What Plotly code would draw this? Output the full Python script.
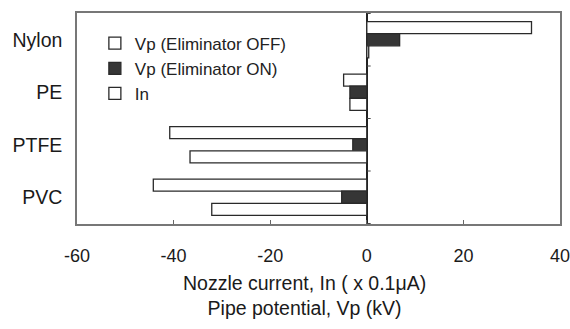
import plotly.graph_objects as go

categories = ["Nylon", "PE", "PTFE", "PVC"]
vp_off = [34.1, -4.8, -40.8, -44.2]
vp_on = [6.8, -3.5, -2.9, -5.2]
nozzle_in = [0.4, -3.5, -36.6, -32.1]
x_ticks = [-60, -40, -20, 0, 20, 40]
x_tick_text = ["-60", "-40", "-20", "0", "20", "40"]
x_title = "Nozzle current, In ( x 0.1μA)<br>Pipe potential, Vp (kV)"

FONT = "Liberation Sans, Arial, sans-serif"

fig = go.Figure()
series = [
    ("Vp (Eliminator OFF)", vp_off, "white"),
    ("Vp (Eliminator ON)", vp_on, "#363636"),
    ("In", nozzle_in, "white"),
]
for i, (name, vals, col) in enumerate(series):
    fig.add_trace(go.Bar(
        y=categories, x=vals, orientation="h", name=name,
        marker=dict(color=col, line=dict(color="#2a2a2a", width=1.3)),
        legendgroup=f"g{i}",
    ))

# small ticks on the zero line between categories
for k in range(len(categories) + 1):
    fig.add_shape(type="line", xref="x", yref="y",
                  x0=0, x1=0.8, y0=k - 0.5, y1=k - 0.5,
                  line=dict(color="#444", width=1))

fig.add_annotation(text=x_title, xref="paper", yref="paper",
                   x=0.47, y=-0.217, xanchor="center", yanchor="top",
                   showarrow=False, font=dict(size=19.5, color="#1a1a1a"))

fig.update_layout(
    width=570, height=329,
    margin=dict(l=77, r=10, t=13, b=105),
    plot_bgcolor="white", paper_bgcolor="white",
    barmode="group", bargap=0.31, bargroupgap=0,
    font=dict(family=FONT, color="#1a1a1a"),
    showlegend=True,
    legend=dict(x=0.037, y=0.94, xanchor="left", yanchor="top",
                bgcolor="rgba(0,0,0,0)", font=dict(size=17, color="#222"),
                tracegroupgap=0, itemwidth=30, traceorder="grouped"),
    xaxis=dict(range=[-60, 40], tickvals=x_ticks, ticktext=x_tick_text,
               ticks="inside", ticklen=4, automargin=False,
               ticklabeloverflow="allow",
               tickcolor="#666", showgrid=False, zeroline=True,
               zerolinecolor="#222", zerolinewidth=1.5,
               showline=True, linecolor="#777", linewidth=1.5, mirror=True,
               tickfont=dict(size=18), ticklabelstandoff=15),
    yaxis=dict(categoryorder="array", categoryarray=categories,
               autorange="reversed", showgrid=False, ticks="", automargin=False,
               showline=True, linecolor="#777", linewidth=1.5, mirror=True,
               tickfont=dict(size=19.5), ticklabelstandoff=9),
)

fig.write_html("out.html")
